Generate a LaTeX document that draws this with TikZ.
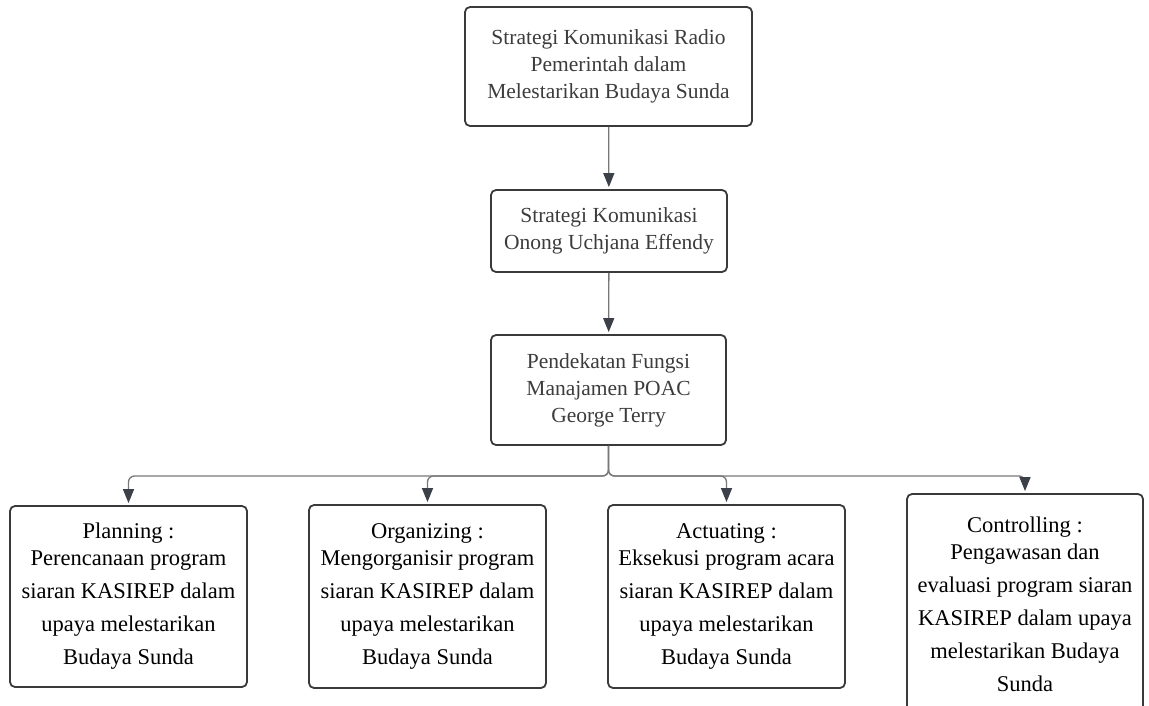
\documentclass[tikz,border=0pt]{standalone}
\usepackage{fontspec}
\setmainfont{Liberation Serif}
\usetikzlibrary{arrows.meta}
\definecolor{garis}{HTML}{3A3A3A}
\definecolor{abu}{HTML}{787878}
\definecolor{ujung}{HTML}{3B4049}
\definecolor{teks}{HTML}{3C3C3C}
\begin{document}
\begin{tikzpicture}[x=1pt,y=-1pt,
  kotak/.style={draw=garis,line width=1.8pt,rounded corners=5pt,align=center,inner sep=0pt,
    font=\fontsize{21.5}{27}\selectfont},
  fungsi/.style={kotak,font=\fontsize{22.5}{27}\selectfont},
  panah/.style={draw=abu,line width=1.3pt,rounded corners=6pt,
    -{Triangle[length=14pt,width=11pt,color=ujung]},shorten >=2pt}]
\useasboundingbox (0,0) rectangle (1149,706);
\clip (0,0) rectangle (1149,706);
% alur utama
\node[kotak,text=teks,minimum width=287pt,minimum height=119pt] (radio) at (608.5,66.5)
  {Strategi Komunikasi Radio\\Pemerintah dalam\\Melestarikan Budaya Sunda};
\node[kotak,text=teks,minimum width=236pt,minimum height=82pt] (onong) at (609,231)
  {Strategi Komunikasi\\Onong Uchjana Effendy};
\node[kotak,text=teks,minimum width=235pt,minimum height=110pt] (poac) at (608.5,390)
  {Pendekatan Fungsi\\Manajamen POAC\\George Terry};
\coordinate (fork) at (608.5,476);
% fungsi POAC
\node[fungsi,minimum width=237pt,minimum height=181pt] (plan) at (128.5,596.5)
  {Planning :\\Perencanaan program\\[6pt]siaran KASIREP dalam\\[6pt]upaya melestarikan\\[6pt]Budaya Sunda};
\node[fungsi,minimum width=237pt,minimum height=183pt] (org) at (427.5,596.5)
  {Organizing :\\Mengorganisir program\\[6pt]siaran KASIREP dalam\\[6pt]upaya melestarikan\\[6pt]Budaya Sunda};
\node[fungsi,minimum width=237pt,minimum height=183pt] (act) at (726.5,596.5)
  {Actuating :\\Eksekusi program acara\\[6pt]siaran KASIREP dalam\\[6pt]upaya melestarikan\\[6pt]Budaya Sunda};
\node[fungsi,minimum width=236pt,minimum height=220pt] (ctrl) at (1025,604)
  {Controlling :\\Pengawasan dan\\[6pt]evaluasi program siaran\\[6pt]KASIREP dalam upaya\\[6pt]melestarikan Budaya\\[6pt]Sunda};
% panah
\draw[panah] (radio) -- (onong);
\draw[panah] (onong) -- (poac);
\foreach \anak in {plan,org,act,ctrl}
  \draw[panah] (poac.south) -- (fork) -| (\anak.north);
\end{tikzpicture}
\end{document}
